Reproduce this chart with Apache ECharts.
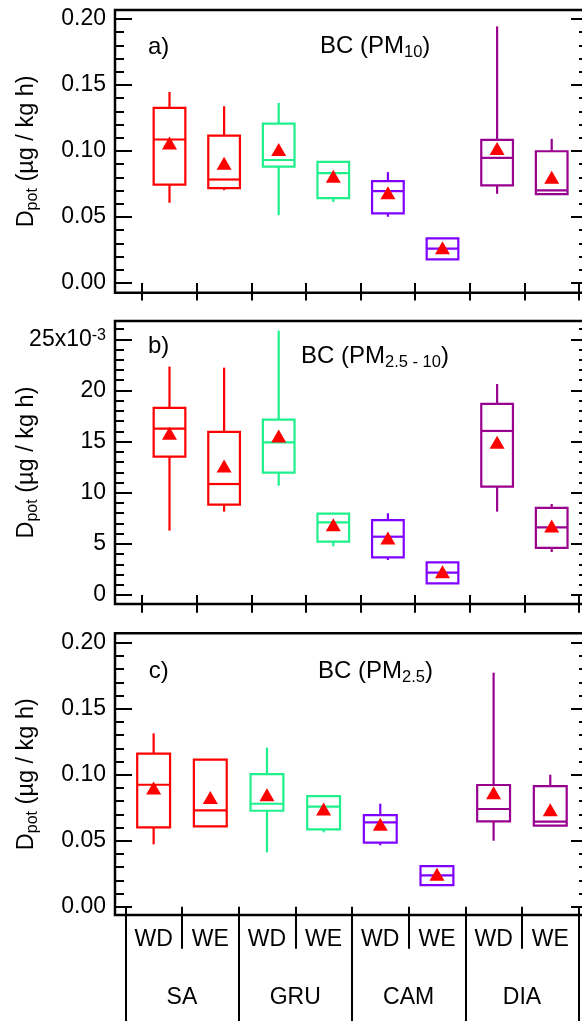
<!DOCTYPE html>
<html>
<head>
<meta charset="utf-8">
<script src="https://cdn.jsdelivr.net/npm/echarts@6/dist/echarts.min.js"></script>
<style>
  html, body { margin: 0; padding: 0; background: #fff; }
  #chart { width: 582px; height: 1021px; }
</style>
</head>
<body>
<div id="chart"></div>
<script>
// ---- data -------------------------------------------------------------
const categories = ['WD', 'WE', 'WD', 'WE', 'WD', 'WE', 'WD', 'WE'];
const sites = ['SA', 'GRU', 'CAM', 'DIA'];
const siteColors = ['#FF0000', '#1EF08C', '#8000FF', '#990090'];

// each box: [whisker low, Q1, median, Q3, whisker high]
const pm10Boxes = [
  [0.0608, 0.0746, 0.1087, 0.1326, 0.1447],
  [0.0703, 0.0719, 0.0784, 0.1117, 0.1339],
  [0.0514, 0.0882, 0.0932, 0.1208, 0.1364],
  [0.0613, 0.0643, 0.0832, 0.0918, 0.0918],
  [0.0502, 0.0527, 0.0696, 0.0772, 0.0840],
  [0.0179, 0.0179, 0.0260, 0.0338, 0.0338],
  [0.0676, 0.0739, 0.0948, 0.1084, 0.1944],
  [0.0673, 0.0673, 0.0701, 0.0998, 0.1092]
];
const pm10Means = [0.1060, 0.0908, 0.1012, 0.0809, 0.0683, 0.0267, 0.1019, 0.0802];

// coarse fraction, in units of 1e-3
const coarseBoxes = [
  [6.29, 13.53, 16.26, 18.29, 22.33],
  [8.15, 8.83, 10.85, 15.94, 22.23],
  [10.69, 11.96, 14.93, 17.14, 25.85],
  [4.76, 5.22, 7.11, 7.95, 7.95],
  [3.42, 3.68, 5.70, 7.33, 7.99],
  [1.14, 1.14, 2.18, 3.19, 3.19],
  [8.15, 10.59, 16.04, 18.68, 20.63],
  [4.20, 4.60, 6.62, 8.51, 8.90]
];
const coarseMeans = [15.81, 12.61, 15.55, 6.88, 5.57, 2.28, 14.93, 6.75];

const pm25Boxes = [
  [0.0472, 0.0601, 0.0924, 0.1159, 0.1313],
  [0.0609, 0.0609, 0.0730, 0.1114, 0.1114],
  [0.0412, 0.0727, 0.0780, 0.1005, 0.1205],
  [0.0563, 0.0586, 0.0758, 0.0838, 0.0838],
  [0.0465, 0.0485, 0.0639, 0.0694, 0.0780],
  [0.0164, 0.0164, 0.0237, 0.0308, 0.0308],
  [0.0500, 0.0646, 0.0740, 0.0922, 0.1773],
  [0.0614, 0.0614, 0.0644, 0.0914, 0.1000]
];
const pm25Means = [0.0899, 0.0828, 0.0848, 0.0740, 0.0624, 0.0245, 0.0864, 0.0735];

const pm10TickLabels = ['0.00', '0.05', '0.10', '0.15', '0.20'];
const coarseTickLabels = ['0', '5', '10', '15', '20', '{n|25x10}{sup|-3}'];
const pm25TickLabels = ['0.00', '0.05', '0.10', '0.15', '0.20'];

// ---- styling / layout --------------------------------------------------
const FONT = '"Liberation Sans", Arial, Helvetica, sans-serif';
const TICK_FONT = 23;
const frameLeft = 115, frameRight = 588;

const panels = [
  {
    boxes: pm10Boxes, means: pm10Means, labels: pm10TickLabels,
    majorMax: 0.20, majorStep: 0.05, minorMax: 0.20, minorStep: 0.01,
    frameTop: 10, frameBottom: 292.7, yTop: 19, yZero: 283,
    catLeft: 142.2, catRight: 579, tickLen: 17.5,
    tag: 'a)', tagLeft: 148, tagTop: 33.5,
    title: '{m|BC (PM}{s|10}{m|)}', titleLeft: 320, titleTop: 32.7
  },
  {
    boxes: coarseBoxes, means: coarseMeans, labels: coarseTickLabels,
    majorMax: 25, majorStep: 5, minorMax: 26, minorStep: 1,
    frameTop: 321, frameBottom: 604, yTop: 339.3, yZero: 595,
    catLeft: 142.2, catRight: 579, tickLen: 17.7,
    tag: 'b)', tagLeft: 148, tagTop: 332.5,
    title: '{m|BC (PM}{s|2.5 - 10}{m|)}', titleLeft: 301, titleTop: 342.7
  },
  {
    boxes: pm25Boxes, means: pm25Means, labels: pm25TickLabels,
    majorMax: 0.20, majorStep: 0.05, minorMax: 0.20, minorStep: 0.01,
    frameTop: 633.3, frameBottom: 915, yTop: 642.7, yZero: 906.7,
    catLeft: 125.3, catRight: 578.6, tickLen: 42,
    tag: 'c)', tagLeft: 148.7, tagTop: 657.7,
    title: '{m|BC (PM}{s|2.5}{m|)}', titleLeft: 318, titleTop: 657.7,
    table: true
  }
];

const textRich = {
  m: { fontSize: 24, lineHeight: 28, fontFamily: FONT, fontWeight: 'normal', color: '#000' },
  s: { fontSize: 16.5, lineHeight: 17, verticalAlign: 'bottom', fontFamily: FONT, fontWeight: 'normal', color: '#000' }
};
// "25x10^-3": digits sit low, exponent raised; the pair is centred on its tick
const tickRich = {
  n: { fontSize: TICK_FONT, lineHeight: 24, verticalAlign: 'bottom', fontFamily: FONT, color: '#000' },
  sup: { fontSize: 16, lineHeight: 24, verticalAlign: 'top', padding: [0, 0, 12, 0], fontFamily: FONT, color: '#000' }
};
const blackLine = { color: '#000', width: 2 };

const grids = [], xAxes = [], yAxes = [], series = [], titles = [];
function addGrid(g) {
  grids.push(Object.assign({ containLabel: false, outerBoundsMode: 'none' }, g));
  return grids.length - 1;
}

// box + whiskers drawn through the axis scales
function renderBox(params, api) {
  const i = api.value(0);
  const band = api.size([1, 0])[0];
  const half = band * 0.29;
  const lo = api.coord([i, api.value(1)]);
  const q1 = api.coord([i, api.value(2)]);
  const md = api.coord([i, api.value(3)]);
  const q3 = api.coord([i, api.value(4)]);
  const hi = api.coord([i, api.value(5)]);
  const cx = q1[0];
  const color = siteColors[Math.floor(params.dataIndex / 2)];
  const st = { stroke: color, lineWidth: 2.2, fill: null };
  return {
    type: 'group',
    children: [
      { type: 'line', shape: { x1: cx, y1: q3[1], x2: cx, y2: hi[1] }, style: st },
      { type: 'line', shape: { x1: cx, y1: q1[1], x2: cx, y2: lo[1] }, style: st },
      { type: 'rect', shape: { x: cx - half, y: q3[1], width: 2 * half, height: q1[1] - q3[1] }, style: st },
      { type: 'line', shape: { x1: cx - half, y1: md[1], x2: cx + half, y2: md[1] }, style: st }
    ]
  };
}

panels.forEach(function (p) {
  const pxPerUnit = (p.yZero - p.yTop) / p.majorMax;
  const dataMax = p.majorMax + (p.yTop - p.frameTop) / pxPerUnit;
  const dataMin = -(p.frameBottom - p.yZero) / pxPerUnit;

  // frame, carrying the axis title centred on the plot box
  const gFrame = addGrid({
    left: frameLeft, top: p.frameTop, width: frameRight - frameLeft,
    height: p.frameBottom - p.frameTop,
    show: true, borderColor: '#000', borderWidth: 2.5, backgroundColor: 'rgba(0,0,0,0)'
  });
  xAxes.push({ gridIndex: gFrame, type: 'value', show: false, min: 0, max: 1 });
  yAxes.push({
    gridIndex: gFrame, type: 'value', position: 'left', min: 0, max: 1,
    axisLine: { show: false }, axisTick: { show: false }, axisLabel: { show: false }, splitLine: { show: false },
    name: '{n|D}{s|pot}{n| (µg / kg h)}', nameLocation: 'middle', nameGap: 74, nameRotate: 90,
    nameTextStyle: {
      rich: {
        n: { fontSize: 23.5, lineHeight: 28, fontFamily: FONT, color: '#000' },
        s: { fontSize: 16, lineHeight: 16, verticalAlign: 'bottom', fontFamily: FONT, color: '#000' }
      }
    }
  });

  // major ticks with labels
  const gMaj = addGrid({
    left: frameLeft, top: p.yTop, width: frameRight - frameLeft, height: p.yZero - p.yTop
  });
  xAxes.push({ gridIndex: gMaj, type: 'value', show: false, min: 0, max: 1 });
  const labels = p.labels;
  yAxes.push({
    gridIndex: gMaj, type: 'value', position: 'left', min: 0, max: p.majorMax, interval: p.majorStep,
    axisLine: { show: false }, splitLine: { show: false },
    axisTick: { show: true, inside: true, length: 17, lineStyle: blackLine },
    axisLabel: {
      margin: 9, color: '#000', fontSize: TICK_FONT, fontFamily: FONT, rich: tickRich,
      formatter: function (v) { return labels[Math.round(v / p.majorStep)]; }
    }
  });
  yAxes.push({
    gridIndex: gMaj, type: 'value', position: 'right', min: 0, max: p.majorMax, interval: p.majorStep,
    axisLine: { show: false }, splitLine: { show: false }, axisLabel: { show: false },
    axisTick: { show: true, inside: true, length: 17, lineStyle: blackLine }
  });

  // minor ticks
  const minorH = p.minorMax * pxPerUnit;
  const gMin = addGrid({
    left: frameLeft, top: p.yZero - minorH, width: frameRight - frameLeft, height: minorH
  });
  xAxes.push({ gridIndex: gMin, type: 'value', show: false, min: 0, max: 1 });
  ['left', 'right'].forEach(function (pos) {
    yAxes.push({
      gridIndex: gMin, type: 'value', position: pos, min: 0, max: p.minorMax, interval: p.minorStep,
      axisLine: { show: false }, splitLine: { show: false }, axisLabel: { show: false },
      axisTick: { show: true, inside: true, length: 9, lineStyle: blackLine }
    });
  });

  // data area (category positions)
  const gData = addGrid({
    left: p.catLeft, top: p.frameTop, width: p.catRight - p.catLeft, height: p.frameBottom - p.frameTop
  });
  xAxes.push({
    gridIndex: gData, type: 'category', data: categories, position: 'bottom', boundaryGap: true,
    axisLine: { show: false },
    axisTick: { show: true, inside: false, length: p.tickLen, lineStyle: blackLine },
    axisLabel: p.table
      ? { show: true, margin: 13, color: '#000', fontSize: TICK_FONT, fontFamily: FONT }
      : { show: false }
  });
  const xData = xAxes.length - 1;
  if (p.table) {
    xAxes.push({
      gridIndex: gData, type: 'category', data: sites, position: 'bottom', boundaryGap: true,
      axisLine: { show: false },
      axisTick: { show: true, inside: false, length: 112, lineStyle: blackLine },
      axisLabel: { show: true, margin: 71, color: '#000', fontSize: TICK_FONT, fontFamily: FONT }
    });
  }
  yAxes.push({ gridIndex: gData, type: 'value', show: false, min: dataMin, max: dataMax });
  const yData = yAxes.length - 1;

  series.push({
    type: 'custom', xAxisIndex: xData, yAxisIndex: yData, clip: false,
    renderItem: renderBox,
    encode: { x: 0, y: [1, 2, 3, 4, 5] },
    data: p.boxes.map(function (b, i) { return [i].concat(b); }),
    silent: true, animation: false
  });
  series.push({
    type: 'scatter', xAxisIndex: xData, yAxisIndex: yData,
    symbol: 'triangle', symbolSize: [15, 13],
    itemStyle: { color: '#FF0000', opacity: 1 },
    data: p.means.map(function (m, i) { return [i, m]; }),
    silent: true, animation: false, z: 5
  });

  titles.push({ text: '{m|' + p.tag + '}', left: p.tagLeft, top: p.tagTop, padding: 0,
    textStyle: { fontWeight: 'normal', rich: textRich } });
  titles.push({ text: p.title, left: p.titleLeft, top: p.titleTop, padding: 0,
    textStyle: { fontWeight: 'normal', rich: textRich } });
});

const chart = echarts.init(document.getElementById('chart'), null, { renderer: 'canvas' });
chart.setOption({
  animation: false,
  backgroundColor: '#fff',
  title: titles,
  grid: grids,
  xAxis: xAxes,
  yAxis: yAxes,
  series: series
});
</script>
</body>
</html>
